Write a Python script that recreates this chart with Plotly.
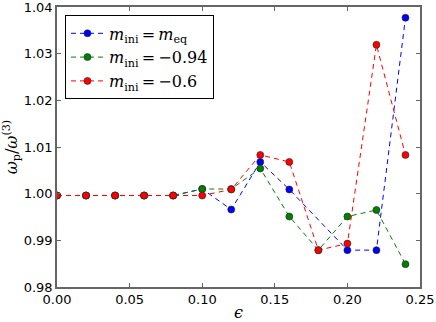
import plotly.graph_objects as go

# data
eps = [0.00, 0.02, 0.04, 0.06, 0.08, 0.10, 0.12, 0.14, 0.16, 0.18, 0.20, 0.22, 0.24]
w_meq = [0.9996, 0.9996, 0.9996, 0.9996, 0.9996, 1.0010, 0.9966, 1.0068, 1.0009, None, 0.9879, 0.9879, 1.0377]
w_m094 = [0.9996, 0.9996, 0.9996, 0.9996, 0.9996, 1.0010, 1.0010, 1.0054, 0.9951, 0.9879, 0.9951, 0.9965, 0.9849]
w_m06 = [0.9996, 0.9996, 0.9996, 0.9996, 0.9996, 0.9996, 1.0009, 1.0083, 1.0068, 0.9879, 0.9893, 1.0319, 1.0083]

eq = "\u2009=\u2009"
series = [
    ("<i>m</i><sub>ini</sub>" + eq + "<i>m</i><sub>eq</sub>", w_meq, "#0000ff"),
    ("<i>m</i><sub>ini</sub>" + eq + "\u22120.94", w_m094, "#008000"),
    ("<i>m</i><sub>ini</sub>" + eq + "\u22120.6", w_m06, "#ff0000"),
]

fig = go.Figure()
for name, ys, col in series:
    fig.add_trace(go.Scatter(
        x=eps, y=ys, name=name, mode="lines+markers", connectgaps=True,
        line=dict(color=col, width=1, dash="5px,4px"),
        marker=dict(color=col, size=7, line=dict(color="#222", width=0.6)),
    ))

axis_common = dict(
    showgrid=False, zeroline=False, showline=True, mirror="ticks",
    linecolor="#666", linewidth=1.5, ticks="inside", ticklen=4,
    tickcolor="#666", tickformat=".2f", automargin=False,
    ticklabeloverflow="allow",
    tickfont=dict(family="DejaVu Sans", size=13, color="black"),
)

fig.update_layout(
    width=436, height=322,
    margin=dict(l=57, r=16, t=7, b=35),
    paper_bgcolor="white", plot_bgcolor="white",
    font=dict(family="DejaVu Serif", size=15, color="black"),
    xaxis=dict(range=[0, 0.2500001], dtick=0.05, tick0=0,
               title=dict(text="<i>\u03f5</i>", standoff=0, font=dict(size=16)),
               **axis_common),
    yaxis=dict(range=[0.98, 1.0400001], dtick=0.01, tick0=0.98,
               title=dict(text="<i>\u03c9</i><sub>p</sub>/<i>\u03c9</i><sup>(3)</sup>",
                          standoff=6, font=dict(size=16)),
               **axis_common),
    legend=dict(x=0.022, y=0.97, xanchor="left", yanchor="top",
                bordercolor="black", borderwidth=1, bgcolor="white",
                itemwidth=33,
                font=dict(family="DejaVu Serif", size=16), tracegroupgap=0),
    showlegend=True,
)

fig.write_html("out.html", config={"displayModeBar": False},
               post_script="document.body.style.margin='0';")
